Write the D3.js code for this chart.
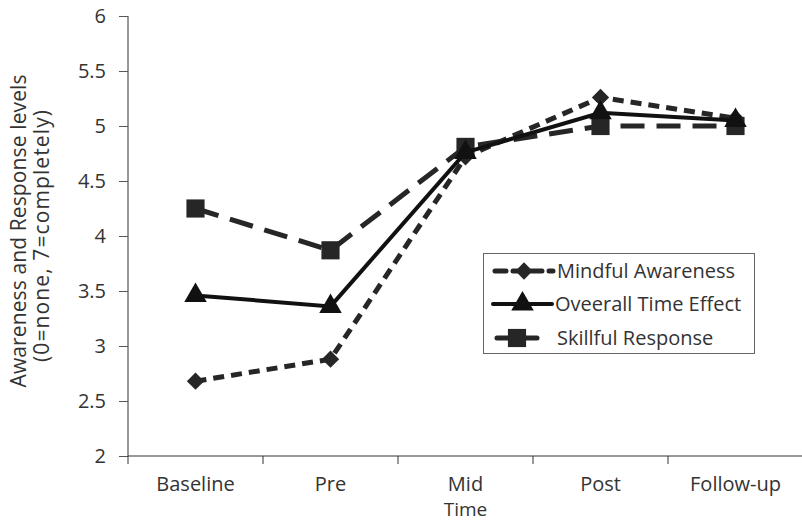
<!DOCTYPE html>
<html><head><meta charset="utf-8">
<script src="https://cdn.jsdelivr.net/npm/d3@7"></script>
<style>body{margin:0;background:#fff;} text{font-family:"Open Sans","Noto Sans",sans-serif;}</style>
</head><body><svg id="c" width="802" height="523"></svg>
<script>
const categories = ["Baseline","Pre","Mid","Post","Follow-up"];
const mindful = [2.68, 2.88, 4.72, 5.26, 5.07];
const overall = [3.46, 3.36, 4.76, 5.12, 5.05];
const skillful = [4.25, 3.87, 4.81, 5.00, 5.00];
const yTicks = [2,2.5,3,3.5,4,4.5,5,5.5,6];
const seriesNames = ["Mindful Awareness","Oveerall Time Effect","Skillful Response"];

const svg = d3.select("#c");
const pL = 128, pR = 803, pT = 16, pB = 456;
const x = d3.scaleBand().domain(categories).range([pL, pR]);
const y = d3.scaleLinear().domain([2,6]).range([pB, pT]);
const txt = "#333";
const FS = 20;

// axes
const ya = svg.append("g").attr("transform",`translate(${pL},0)`)
  .call(d3.axisLeft(y).tickValues(yTicks).tickSize(9).tickFormat(d=>String(d)));
ya.select(".domain").attr("stroke","#333").attr("d",`M0,${pB}V${pT}`);
ya.selectAll(".tick line").attr("stroke","#555");
ya.selectAll(".tick text").attr("font-size",FS).attr("fill",txt).attr("x",-22);

const xa = svg.append("g").attr("transform",`translate(0,${pB})`)
  .call(d3.axisBottom(x).tickSize(0));
xa.select(".domain").attr("stroke","#333").attr("d",`M${pL},0H${pR}`);
xa.selectAll(".tick text").attr("font-size",FS).attr("fill",txt).attr("y",0).attr("dy",35);
// boundary ticks
const bounds = categories.map(c=>x(c)).concat([pR]);
xa.selectAll(".bt").data(bounds).join("line").attr("class","bt")
  .attr("x1",d=>d).attr("x2",d=>d).attr("y1",0).attr("y2",8).attr("stroke","#333");

svg.append("text").attr("x", x("Mid")+x.bandwidth()/2).attr("y",516).attr("text-anchor","middle")
  .attr("font-size",19).attr("fill",txt).text("Time");
const yl = svg.append("text").attr("transform","rotate(-90)").attr("text-anchor","middle")
  .attr("font-size",21).attr("fill",txt);
yl.append("tspan").attr("x",-231).attr("y",26).attr("textLength",313).attr("lengthAdjust","spacing")
  .text("Awareness and Response levels");
yl.append("tspan").attr("x",-236).attr("y",49).attr("textLength",252).attr("lengthAdjust","spacing")
  .text("(0=none, 7=completely)");

const cx = c => x(c)+x.bandwidth()/2;
const line = d3.line().x((d,i)=>cx(categories[i])).y(d=>y(d));

const sym = {
  diamond: d3.symbol().type(d3.symbolSquare).size(150),
  tri: d3.symbol().type(d3.symbolTriangle).size(220),
  sq: d3.symbol().type(d3.symbolSquare).size(330)
};

function drawSeries(data, dash, width, kind, c){
  svg.append("path").datum(data).attr("d",line).attr("fill","none")
    .attr("stroke",c).attr("stroke-width",width).attr("stroke-dasharray",dash);
  svg.selectAll(null).data(data).join("path")
    .attr("d", sym[kind])
    .attr("transform",(d,i)=>`translate(${cx(categories[i])},${y(d)})${kind==="diamond"?" rotate(45)":""}`)
    .attr("fill",c);
}
drawSeries(skillful, "24,12", 5, "sq", "#262626");
drawSeries(mindful, "11,7", 5, "diamond", "#262626");
drawSeries(overall, null, 4, "tri", "#111");

// legend
const lg = svg.append("g");
lg.append("rect").attr("x",483.5).attr("y",253.5).attr("width",271).attr("height",100)
  .attr("fill","#fff").attr("stroke","#666").attr("stroke-width",1);
const ly = [271, 304, 338];
const styles = [{dash:"11,7",w:5,k:"diamond",c:"#262626"},{dash:null,w:4,k:"tri",c:"#111"},{dash:null,w:5,k:"sq",c:"#262626"}];
const lx = [[495,553],[493,552],[497,537]];
const tx = [557, 555, 557];
seriesNames.forEach((n,i)=>{
  const s = styles[i];
  lg.append("line").attr("x1",lx[i][0]).attr("x2",lx[i][1]).attr("y1",ly[i]).attr("y2",ly[i])
    .attr("stroke",s.c).attr("stroke-width",s.w).attr("stroke-dasharray",s.dash).attr("stroke-linecap","round");
  const mxs = (lx[i][0]+lx[i][1])/2;
  lg.append("path").attr("d",sym[s.k]).attr("fill",s.c)
    .attr("transform",`translate(${mxs},${ly[i]})${s.k==="diamond"?" rotate(45)":""}`);
  lg.append("text").attr("x",tx[i]).attr("y",ly[i]+7).attr("font-size",FS).attr("fill",txt).text(n);
});
</script></body></html>
